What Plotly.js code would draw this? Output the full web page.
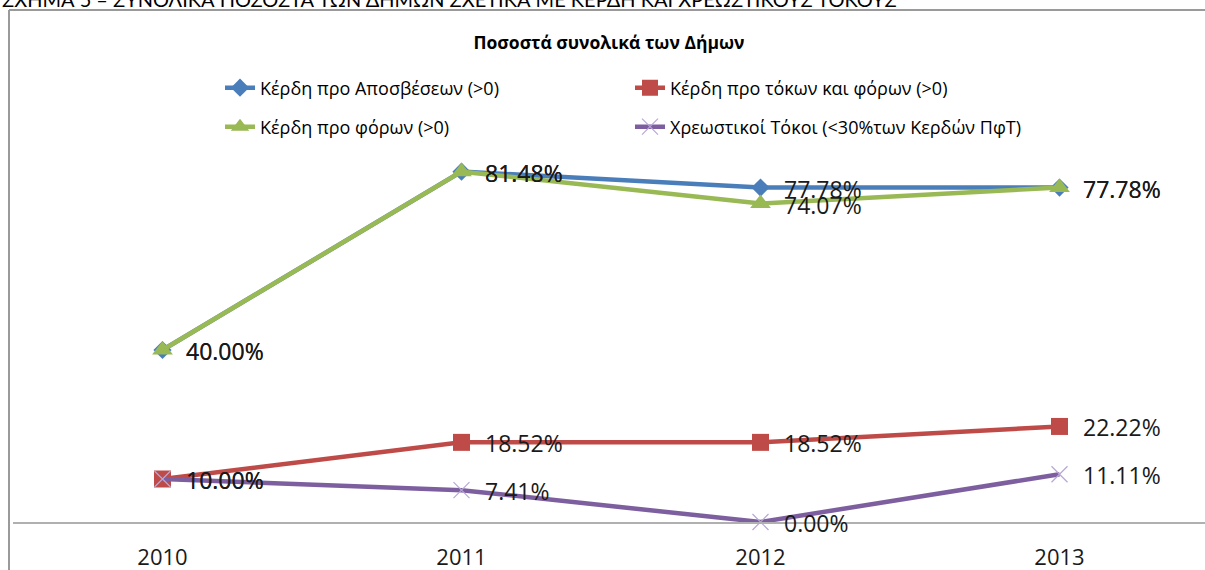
<!DOCTYPE html>
<html>
<head>
<meta charset="utf-8">
<script src="https://cdn.plot.ly/plotly-3.0.1.min.js"></script>
<style>html,body{margin:0;padding:0;background:#fff;}#chart{width:1205px;height:570px;}</style>
</head>
<body>
<div id="chart"></div>
<script>
const years = ['2010', '2011', '2012', '2013'];
const seriesNames = [
  'Κέρδη προ Αποσβέσεων (>0)',
  'Κέρδη προ τόκων και φόρων (>0)',
  'Κέρδη προ φόρων (>0)',
  'Χρεωστικοί Τόκοι (<30%των Κερδών ΠφΤ)'
];
const ebitda = [40.00, 81.48, 77.78, 77.78];
const ebit = [10.00, 18.52, 18.52, 22.22];
const ebt = [40.00, 81.48, 74.07, 77.78];
const interest = [10.00, 7.41, 0.00, 11.11];

const chartTitle = 'Ποσοστά συνολικά των Δήμων';
const caption = 'ΣΧΗΜΑ 5 – ΣΥΝΟΛΙΚΑ ΠΟΣΟΣΤΑ ΤΩΝ ΔΗΜΩΝ ΣΧΕΤΙΚΑ ΜΕ ΚΕΡΔΗ ΚΑΙ ΧΡΕΩΣΤΙΚΟΥΣ ΤΟΚΟΥΣ';

const FONT = '"Open Sans", Lato, sans-serif';
const styles = [
  {color: '#4a7ebb', symbol: 'diamond', size: 14, mline: 0, legend: 'legend'},
  {color: '#be4b48', symbol: 'square', size: 17, mline: 0, legend: 'legend'},
  {color: '#98b954', symbol: 'triangle-up', size: 18, mline: 0, legend: 'legend2'},
  {color: '#7d5fa0', symbol: 'x-thin-open', size: 16, mline: 1.2, legend: 'legend2'}
];
const allSeries = [ebitda, ebit, ebt, interest];

// plot-area geometry helpers (pixels -> paper)
const PL = 13, PW = 1192, PB = 522, PH = 451;
const px = p => (p - PL) / PW;
const py = p => (PB - p) / PH;

const traces = allSeries.map((vals, i) => {
  const s = styles[i];
  const mc = i === 3 ? '#b7a6d4' : s.color;
  return {
    type: 'scatter', mode: 'lines+markers',
    x: years, y: vals, name: seriesNames[i],
    legend: s.legend,
    cliponaxis: false,
    line: {color: s.color, width: 4.5},
    marker: {symbol: s.symbol, size: s.size, color: mc, line: {color: mc, width: s.mline}}
  };
});

const annotations = [];
allSeries.forEach((vals) => {
  vals.forEach((v, j) => {
    annotations.push({
      x: j, y: v, xref: 'x', yref: 'y',
      text: v.toFixed(2) + '%', showarrow: false,
      xanchor: 'left', yanchor: 'middle', xshift: 21, yshift: -1,
      font: {family: FONT, size: 23, color: '#1a1a1a'}
    });
  });
});
annotations.push({
  xref: 'paper', yref: 'paper', x: px(0), y: py(-1),
  xanchor: 'left', yanchor: 'middle', showarrow: false,
  text: caption, font: {family: 'Lato, sans-serif', size: 20, color: '#000'}
});

const legendCommon = {
  orientation: 'h', xref: 'paper', xanchor: 'left', yref: 'paper', yanchor: 'middle',
  entrywidth: 365, entrywidthmode: 'pixels', bgcolor: 'rgba(0,0,0,0)', borderwidth: 0,
  font: {family: FONT, size: 18, color: '#000'}
};

const layout = {
  width: 1205, height: 570,
  margin: {l: PL, r: 0, t: 570 - 48 - PH, b: 48, pad: 0},
  paper_bgcolor: '#ffffff', plot_bgcolor: '#ffffff',
  font: {family: FONT, color: '#000'},
  title: {text: '<b>' + chartTitle + '</b>', x: 0.5, xref: 'paper', xanchor: 'center',
          y: 1 - 43 / 570, yref: 'container', yanchor: 'middle',
          font: {family: FONT, size: 17.5, color: '#000'}},
  xaxis: {type: 'category', range: [-0.5, -0.5 + PW / 299], showgrid: false, zeroline: false,
          showline: true, linecolor: '#b0b0b0', linewidth: 2,
          ticks: 'outside', ticklen: 15, tickcolor: 'rgba(0,0,0,0)',
          tickfont: {family: FONT, size: 22, color: '#1a1a1a'}},
  yaxis: {range: [0, PH / 4.3], showgrid: false, zeroline: false, showline: false,
          showticklabels: false, ticks: ''},
  showlegend: true,
  legend: Object.assign({}, legendCommon, {x: px(220), y: py(88)}),
  legend2: Object.assign({}, legendCommon, {x: px(220), y: py(127)}),
  shapes: [
    {type: 'line', xref: 'paper', yref: 'paper', x0: px(9), x1: px(9),
     y0: py(600), y1: py(10), line: {color: '#9a9a9a', width: 2}},
    {type: 'line', xref: 'paper', yref: 'paper', x0: px(9), x1: px(1220),
     y0: py(10), y1: py(10), line: {color: '#9a9a9a', width: 2}}
  ],
  annotations: annotations
};

Plotly.newPlot('chart', traces, layout, {displayModeBar: false, staticPlot: true});
</script>
</body>
</html>
